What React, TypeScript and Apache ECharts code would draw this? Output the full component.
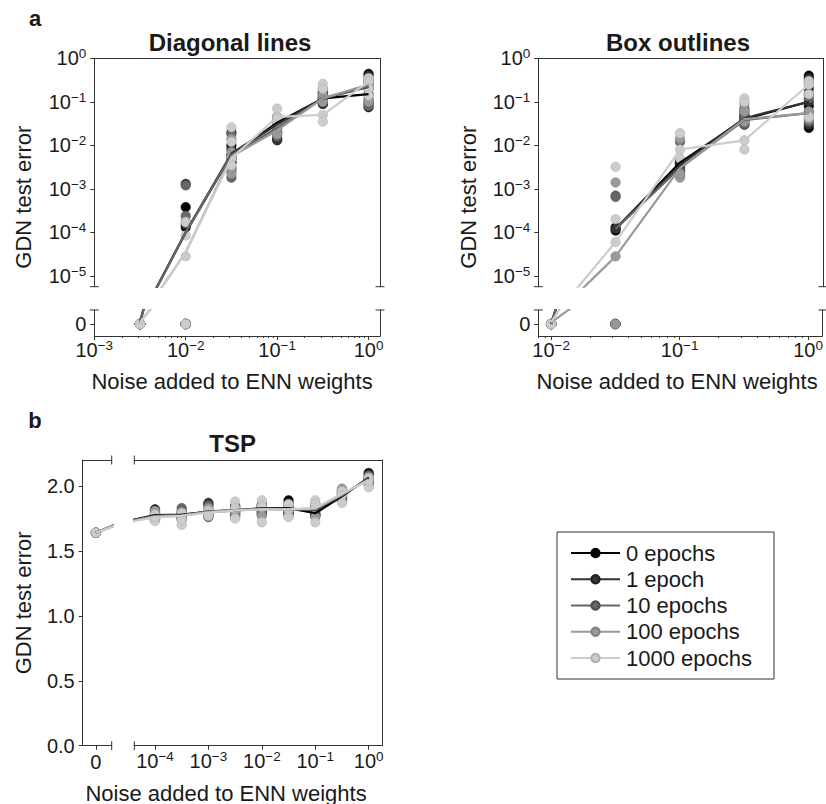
import React, { useEffect, useRef } from 'react';
import * as echarts from 'echarts';

// ---------------- data ----------------
const EPOCHS = ['0 epochs', '1 epoch', '10 epochs', '100 epochs', '1000 epochs'];
const COLORS = ['#000000', '#333333', '#666666', '#999999', '#cccccc'];
const EDGES = ['#000000', '#1f1f1f', '#4d4d4d', '#808080', '#b0b0b0'];

// Diagonal lines
const DIAG_NOISE = [0.003162, 0.01, 0.03162, 0.1, 0.3162, 1];
const DIAG_MEANS = [
  [1e-6, 1.0e-4, 6.0e-3, 0.033, 0.12, 0.15],
  [1e-6, 1.0e-4, 6.5e-3, 0.030, 0.12, 0.22],
  [1e-6, 1.0e-4, 6.0e-3, 0.025, 0.12, 0.23],
  [1e-6, 3.5e-5, 5.5e-3, 0.022, 0.12, 0.25],
  [1e-6, 3.5e-5, 5.0e-3, 0.045, 0.05, 0.29],
];
const DIAG_RUNS = [
  [[0, 0, 0, 0], [1.3e-4, 3.8e-4, 0, 0], [0.010, 4e-3, 6e-3, 5e-3], [0.03, 0.014, 0.04, 0.025], [0.12, 0.09, 0.15, 0.11], [0.44, 0.1, 0.075, 0.2]],
  [[0, 0, 0, 0], [1.3e-3, 1.5e-4, 0, 0], [0.02, 3e-3, 8e-3, 4e-3], [0.035, 0.013, 0.045, 0.02], [0.13, 0.1, 0.17, 0.09], [0.4, 0.09, 0.3, 0.15]],
  [[0, 0, 0, 0], [1.2e-3, 2.4e-4, 0, 0], [0.018, 1.8e-3, 5e-3, 2.5e-3], [0.028, 0.016, 0.02, 0.03], [0.12, 0.16, 0.1, 0.13], [0.35, 0.08, 0.25, 0.12]],
  [[0, 0, 0, 0], [1.8e-4, 0, 0, 0], [0.014, 2.2e-3, 7e-3, 3e-3], [0.02, 0.018, 0.03, 0.025], [0.14, 0.2, 0.11, 0.1], [0.3, 0.1, 0.2, 0.25]],
  [[0, 0, 0, 0], [1.7e-4, 8.5e-5, 2.8e-5, 0], [0.026, 0.012, 5e-3, 3.5e-3], [0.07, 0.045, 0.035, 0.04], [0.26, 0.2, 0.05, 0.035], [0.35, 0.3, 0.2, 0.14]],
];

// Box outlines
const BOX_NOISE = [0.01, 0.03162, 0.1, 0.3162, 1];
const BOX_MEANS = [
  [0, 1.2e-4, 4.0e-3, 0.040, 0.10],
  [0, 1.2e-4, 3.5e-3, 0.042, 0.10],
  [0, 1.2e-4, 3.0e-3, 0.038, 0.055],
  [1e-6, 2.8e-5, 3.0e-3, 0.040, 0.055],
  [1e-6, 6.0e-5, 8.0e-3, 0.013, 0.25],
];
const BOX_RUNS = [
  [[0, 0, 0], [1.3e-4, 1.1e-4, 0], [4.5e-3, 3.5e-3, 4e-3], [0.04, 0.03, 0.05], [0.4, 0.15, 0.025, 0.08]],
  [[0, 0, 0], [1.2e-4, 0, 0], [4e-3, 3e-3, 2.5e-3], [0.045, 0.035, 0.06], [0.35, 0.2, 0.03, 0.1]],
  [[0, 0, 0], [7e-4, 6.5e-4, 0], [0.012, 2.5e-3, 2e-3], [0.05, 0.03, 0.07], [0.3, 0.06, 0.035, 0.12]],
  [[0, 0, 0], [1.4e-3, 2.8e-5, 0], [0.014, 1.8e-3, 2.2e-3], [0.06, 0.035, 0.09], [0.25, 0.05, 0.04, 0.06]],
  [[0, 0, 0], [3.2e-3, 2e-4, 6e-5], [0.019, 8e-3, 5e-3], [0.12, 0.1, 0.013, 8e-3], [0.3, 0.25, 0.045, 0.15]],
];

// TSP (first level is zero noise)
const TSP_NOISE = [0, 1e-4, 3.162e-4, 1e-3, 3.162e-3, 1e-2, 3.162e-2, 0.1, 0.3162, 1];
const TSP_MEANS = [
  [1.64, 1.775, 1.78, 1.80, 1.81, 1.83, 1.83, 1.79, 1.92, 2.065],
  [1.64, 1.77, 1.775, 1.805, 1.815, 1.825, 1.825, 1.815, 1.925, 2.06],
  [1.64, 1.77, 1.775, 1.80, 1.815, 1.825, 1.82, 1.82, 1.93, 2.055],
  [1.64, 1.765, 1.77, 1.80, 1.815, 1.82, 1.82, 1.825, 1.935, 2.05],
  [1.64, 1.76, 1.77, 1.795, 1.81, 1.82, 1.82, 1.83, 1.94, 2.045],
];
const TSP_RUNS = [
  [[1.64], [1.82, 1.78, 1.74], [1.80, 1.76, 1.78], [1.86, 1.78, 1.80], [1.84, 1.78, 1.80], [1.85, 1.80, 1.82], [1.89, 1.79, 1.81], [1.82, 1.77, 1.78], [1.95, 1.90, 1.92], [2.10, 2.03, 2.06]],
  [[1.64], [1.80, 1.76, 1.75], [1.79, 1.77, 1.75], [1.87, 1.77, 1.79], [1.83, 1.77, 1.82], [1.84, 1.78, 1.83], [1.87, 1.78, 1.82], [1.84, 1.79, 1.81], [1.96, 1.89, 1.93], [2.09, 2.04, 2.06]],
  [[1.64], [1.79, 1.77, 1.76], [1.83, 1.76, 1.74], [1.85, 1.76, 1.82], [1.85, 1.79, 1.81], [1.86, 1.81, 1.79], [1.85, 1.80, 1.83], [1.86, 1.78, 1.82], [1.97, 1.91, 1.92], [2.08, 2.02, 2.05]],
  [[1.64], [1.81, 1.75, 1.77], [1.78, 1.75, 1.80], [1.83, 1.78, 1.80], [1.82, 1.76, 1.80], [1.83, 1.77, 1.85], [1.84, 1.77, 1.81], [1.85, 1.76, 1.83], [1.98, 1.88, 1.94], [2.07, 2.01, 2.06]],
  [[1.64], [1.73, 1.78, 1.76], [1.70, 1.74, 1.79], [1.77, 1.81, 1.79], [1.88, 1.75, 1.83], [1.89, 1.72, 1.84], [1.86, 1.76, 1.82], [1.89, 1.72, 1.86], [1.96, 1.87, 1.93], [2.06, 1.99, 2.04]],
];

const DECADES_Y = [1e-5, 1e-4, 1e-3, 1e-2, 1e-1, 1];
const DIAG_X_TICKS = [1e-3, 1e-2, 1e-1, 1];
const BOX_X_TICKS = [1e-2, 1e-1, 1];
const TSP_X_TICKS = [1e-4, 1e-3, 1e-2, 1e-1, 1];
const TSP_Y_TICKS = [0, 0.5, 1.0, 1.5, 2.0];
const MINOR_X = [2, 3, 4, 5, 6, 7, 8, 9].flatMap((m) => [m * 1e-3, m * 1e-2, m * 1e-1]);

// ---------------- layout ----------------
const FONT = "'Liberation Sans', Arial, Helvetica, sans-serif";
const INK = '#1a1a1a';
const SPINE = '#333333';
const D = { left: 94.3, right: 380, top: 58.3, breakTop: 286.7, lowTop: 310, bottom: 336 };
const B = { left: 538.3, right: 823, top: 58.3, breakTop: 286.7, lowTop: 310, bottom: 336 };
const T = { zl: 82.7, zr: 111.7, ll: 134.3, lr: 382.7, top: 460, bottom: 745.7 };
const TSP_ZERO_SLOT = 3.2; // where the first non-zero level sits on the zero axis
const TSP_ZERO_PROXY = Math.pow(10, -5.5); // where zero sits on the log axis

const pow10Label = (v: number) => {
  const e = Math.round(Math.log10(v));
  return `{b|10}{s|${e < 0 ? '\u2212' + -e : e}}`;
};
const RICH = {
  b: { fontSize: 20, fontFamily: FONT, color: INK, verticalAlign: 'middle', lineHeight: 20 },
  s: { fontSize: 13.5, fontFamily: FONT, color: INK, verticalAlign: 'middle', lineHeight: 20, padding: [0, 0, 9, 0] },
};

const spineOnly = (gridIndex: number, position: string, type = 'value', extra: any = {}) => ({
  gridIndex,
  type,
  position,
  axisLine: { show: true, onZero: false, lineStyle: { color: SPINE, width: 1 } },
  axisTick: { show: false },
  axisLabel: { show: false },
  splitLine: { show: false },
  ...extra,
});

const majorAxis = (gridIndex: number, type: string, min: number, max: number, ticks: number[], fmt: any, position: string, margin: number) => ({
  gridIndex,
  type,
  min,
  max,
  position,
  axisLine: { show: true, onZero: false, lineStyle: { color: SPINE, width: 1 } },
  axisTick: { show: true, length: 4, customValues: ticks, lineStyle: { color: SPINE } },
  axisLabel: {
    show: true,
    customValues: ticks,
    formatter: fmt,
    margin,
    fontSize: 20,
    fontFamily: FONT,
    color: INK,
    rich: RICH,
  },
  splitLine: { show: false },
});

const minorAxis = (gridIndex: number, min: number, max: number) => ({
  gridIndex,
  type: 'log',
  min,
  max,
  position: 'bottom',
  axisLine: { show: false, onZero: false },
  axisTick: { show: true, length: 2, customValues: MINOR_X, lineStyle: { color: SPINE } },
  axisLabel: { show: false },
  splitLine: { show: false },
});

function buildOption() {
  const grids = [
    { left: D.left, top: D.top, width: D.right - D.left, height: D.breakTop - D.top },
    { left: D.left, top: D.lowTop, width: D.right - D.left, height: D.bottom - D.lowTop },
    { left: B.left, top: B.top, width: B.right - B.left, height: B.breakTop - B.top },
    { left: B.left, top: B.lowTop, width: B.right - B.left, height: B.bottom - B.lowTop },
    { left: T.zl, top: T.top, width: T.zr - T.zl, height: T.bottom - T.top },
    { left: T.ll, top: T.top, width: T.lr - T.ll, height: T.bottom - T.top },
  ];
  const dXmin = 1e-3, dXmax = Math.pow(10, 0.125);
  const bXmin = Math.pow(10, -2.1), bXmax = Math.pow(10, 0.11);
  const tXmin = Math.pow(10, -4.387), tXmax = Math.pow(10, 0.262);
  const yUpMin = Math.pow(10, -5.25);
  const lowMin = -0.7e-5, lowMax = 0.82e-5;
  const fmtZero = () => '0';
  const fmtTsp = (v: number) => v.toFixed(1);

  const xAxis = [
    spineOnly(0, 'top', 'log', { min: dXmin, max: dXmax }), // 0
    majorAxis(1, 'log', dXmin, dXmax, DIAG_X_TICKS, pow10Label, 'bottom', 4), // 1
    minorAxis(1, dXmin, dXmax), // 2
    spineOnly(2, 'top', 'log', { min: bXmin, max: bXmax }), // 3
    majorAxis(3, 'log', bXmin, bXmax, BOX_X_TICKS, pow10Label, 'bottom', 4), // 4
    minorAxis(3, bXmin, bXmax), // 5
    majorAxis(4, 'value', -1, 1.2, [0], fmtZero, 'bottom', 6), // 6
    spineOnly(4, 'top', 'value', { min: -1, max: 1.2 }), // 7
    majorAxis(5, 'log', tXmin, tXmax, TSP_X_TICKS, pow10Label, 'bottom', 5), // 8
    spineOnly(5, 'top', 'log', { min: tXmin, max: tXmax }), // 9
  ];
  const yAxis = [
    majorAxis(0, 'log', yUpMin, 1, DECADES_Y, pow10Label, 'left', 8), // 0
    spineOnly(0, 'right'), // 1
    majorAxis(1, 'value', lowMin, lowMax, [0], fmtZero, 'left', 8), // 2
    spineOnly(1, 'right'), // 3
    majorAxis(2, 'log', yUpMin, 1, DECADES_Y, pow10Label, 'left', 8), // 4
    spineOnly(2, 'right'), // 5
    majorAxis(3, 'value', lowMin, lowMax, [0], fmtZero, 'left', 8), // 6
    spineOnly(3, 'right'), // 7
    majorAxis(4, 'value', 0, 2.2, TSP_Y_TICKS, fmtTsp, 'left', 8), // 8
    spineOnly(5, 'right', 'value', { min: 0, max: 2.2 }), // 9
  ];

  const lineS = (s: number, data: any[], xi: number, yi: number) => ({
    type: 'line',
    name: EPOCHS[s],
    xAxisIndex: xi,
    yAxisIndex: yi,
    data,
    symbol: 'circle',
    showSymbol: false,
    clip: true,
    silent: true,
    z: 3,
    color: COLORS[s],
    lineStyle: { color: COLORS[s], width: 2.2 },
    itemStyle: { color: COLORS[s], borderColor: EDGES[s], borderWidth: 0.8 },
    emphasis: { disabled: true },
  });
  const dotS = (s: number, data: any[], xi: number, yi: number) => ({
    type: 'scatter',
    name: EPOCHS[s] + ' runs',
    xAxisIndex: xi,
    yAxisIndex: yi,
    data,
    symbol: 'circle',
    symbolSize: 9.5,
    clip: true,
    silent: true,
    z: 2,
    itemStyle: { color: COLORS[s], borderColor: EDGES[s], borderWidth: 0.5, opacity: 1 },
    emphasis: { disabled: true },
  });

  const lines: any[] = [];
  const dots: any[] = [];
  const brokenPanel = (noise: number[], means: number[][], runs: number[][][], xUp: number, yUp: number, xLow: number, yLow: number) => {
    for (let s = 0; s < 5; s++) {
      lines.push(lineS(s, noise.map((x, i) => [x, means[s][i]]).filter((p) => p[1] > 0), xUp, yUp));
      lines.push(lineS(s, noise.map((x, i) => [x, means[s][i]]), xLow, yLow));
      const up: number[][] = [];
      const low: number[][] = [];
      noise.forEach((x, i) => runs[s][i].forEach((v) => (v > 0 ? up : low).push([x, v])));
      dots.push(dotS(s, up, xUp, yUp));
      dots.push(dotS(s, low, xLow, yLow));
    }
  };
  brokenPanel(DIAG_NOISE, DIAG_MEANS, DIAG_RUNS, 0, 0, 1, 2);
  brokenPanel(BOX_NOISE, BOX_MEANS, BOX_RUNS, 3, 4, 4, 6);

  for (let s = 0; s < 5; s++) {
    lines.push(lineS(s, [[0, TSP_MEANS[s][0]], [TSP_ZERO_SLOT, TSP_MEANS[s][1]]], 6, 8));
    dots.push(dotS(s, TSP_RUNS[s][0].map((v) => [0, v]), 6, 8));
    const pts = TSP_NOISE.map((x, i) => [i === 0 ? TSP_ZERO_PROXY : x, TSP_MEANS[s][i]]);
    lines.push(lineS(s, pts, 8, 9));
    const dd: number[][] = [];
    TSP_NOISE.forEach((x, i) => {
      if (i > 0) TSP_RUNS[s][i].forEach((v) => dd.push([x, v]));
    });
    dots.push(dotS(s, dd, 8, 9));
  }

  const txt = (x: number, y: number, text: string, size: number, bold = false, rot = 0) => ({
    type: 'text',
    x,
    y,
    rotation: rot,
    silent: true,
    style: {
      text,
      fill: INK,
      font: `${bold ? 'bold ' : ''}${size}px ${FONT}`,
      align: 'center',
      verticalAlign: 'middle',
    },
  });
  const seg = (x1: number, y1: number, x2: number, y2: number) => ({
    type: 'line',
    silent: true,
    shape: { x1, y1, x2, y2 },
    style: { stroke: SPINE, lineWidth: 1 },
  });
  const graphics: any[] = [
    txt(35, 18, 'a', 22, true),
    txt(35, 420, 'b', 22, true),
    txt(230, 42, 'Diagonal lines', 24, true),
    txt(678, 42, 'Box outlines', 24, true),
    txt((T.zl + T.lr) / 2, 443, 'TSP', 24, true),
    txt(232, 381, 'Noise added to ENN weights', 22),
    txt(677, 381, 'Noise added to ENN weights', 22),
    txt(226, 793, 'Noise added to ENN weights', 22),
    txt(23.5, (D.top + D.bottom) / 2, 'GDN test error', 22, false, Math.PI / 2),
    txt(468, (B.top + B.bottom) / 2, 'GDN test error', 22, false, Math.PI / 2),
    txt(23.5, (T.top + T.bottom) / 2, 'GDN test error', 22, false, Math.PI / 2),
  ];
  [D, B].forEach((p) => {
    [p.breakTop, p.lowTop].forEach((y) => {
      graphics.push(seg(p.left - 4.5, y, p.left + 4.5, y));
      graphics.push(seg(p.right - 4.5, y, p.right + 4.5, y));
    });
  });
  [T.top, T.bottom].forEach((y) => {
    graphics.push(seg(T.zr, y - 4.5, T.zr, y + 4.5));
    graphics.push(seg(T.ll, y - 4.5, T.ll, y + 4.5));
  });

  return {
    animation: false,
    backgroundColor: '#ffffff',
    textStyle: { fontFamily: FONT },
    grid: grids,
    xAxis,
    yAxis,
    legend: {
      show: true,
      data: EPOCHS,
      orient: 'vertical',
      left: 557,
      top: 532,
      itemWidth: 49,
      itemHeight: 10.5,
      itemGap: 4.25,
      padding: [10, 22, 10, 13],
      borderColor: SPINE,
      borderWidth: 1,
      selectedMode: false,
      textStyle: { fontSize: 22, color: INK, fontFamily: FONT, lineHeight: 22, padding: [0, 0, 0, 1] },
    },
    series: [...lines, ...dots],
    graphic: graphics,
  };
}

export default function App() {
  const ref = useRef<HTMLDivElement>(null);
  useEffect(() => {
    if (!ref.current) return;
    const chart = echarts.init(ref.current, undefined, { renderer: 'svg' });
    chart.setOption(buildOption() as any);
    return () => chart.dispose();
  }, []);
  return <div ref={ref} style={{ position: 'fixed', left: 0, top: 0, width: 826, height: 804, background: '#fff' }} />;
}
